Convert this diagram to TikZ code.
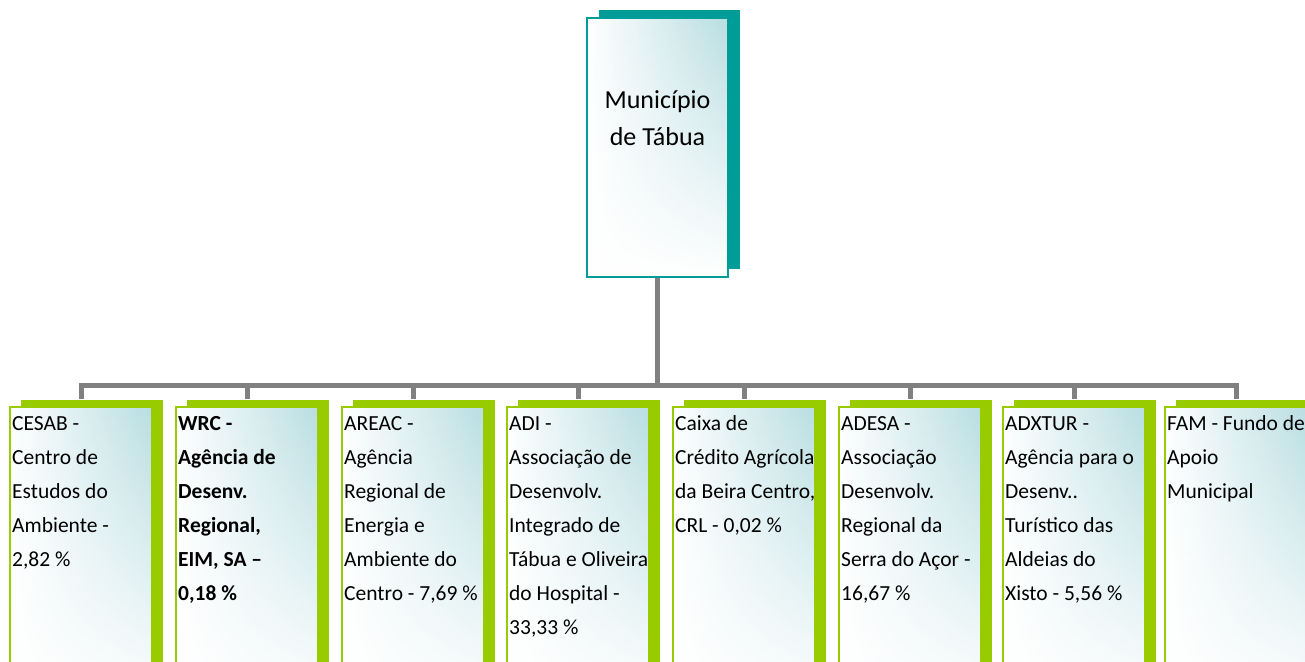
\documentclass[tikz,border=0pt]{standalone}
\usepackage{fontspec}
\setmainfont{Carlito}
\usetikzlibrary{fadings,shadows}

\definecolor{shadeteal}{HTML}{009C97}
\definecolor{leafgreen}{HTML}{99CC00}
\definecolor{bargray}{HTML}{808080}
\definecolor{paleteal}{HTML}{B9DEE2}

\begin{document}
\begin{tikzpicture}[x=1pt, y=-1pt,
		every node/.style={inner sep=0pt},
		frontbox/.style={rectangle, left color=white, right color=paleteal,
			path picture={\fill[white, path fading=north] (path picture bounding box.south west) rectangle (path picture bounding box.north east);}},
		topbox/.style={frontbox, draw=shadeteal, line width=1.2pt, minimum width=141pt, minimum height=259pt,
			general shadow={fill=shadeteal, draw=none, shadow xshift=12pt, shadow yshift=8pt}},
		childbox/.style={frontbox, draw=leafgreen, line width=1.5pt, anchor=north west, minimum width=142pt, minimum height=300pt,
			general shadow={fill=leafgreen, draw=none, shadow xshift=11pt, shadow yshift=7pt}},
		childtext/.style={anchor=north west, align=left, font=\fontsize{21.5}{34}\selectfont},
		boldtext/.style={childtext, font=\fontsize{21.5}{34}\selectfont\bfseries},
		link/.style={draw=bargray, line width=5pt}]
	\clip[use as bounding box] (0,0) rectangle (1305,661);

	% top of the chart
	\node[topbox] (mun) at (657.5,147.5) {};
	\node[anchor=north, align=center, font=\fontsize{26}{37}\selectfont] (muntext) at (657.5,82) {\strut Município\\de Tábua};
	\coordinate (hub) at (657.5,385);

	% participated entities
	\foreach \x/\n in {9/1,175/2,341/3,506/4,672/5,838/6,1002/7,1164/8}
		\node[childbox] (c\n) at (\x,406) {};

	\node[childtext] (t1) at ([xshift=3pt]c1.north west) {\strut CESAB -\\Centro de\\Estudos do\\Ambiente -\\2,82 \%};
	\node[boldtext] (t2) at ([xshift=3pt]c2.north west) {\strut WRC -\\Agência de\\Desenv.\\Regional,\\EIM, SA –\\0,18 \%};
	\node[childtext] (t3) at ([xshift=3pt]c3.north west) {\strut AREAC -\\Agência\\Regional de\\Energia e\\Ambiente do\\Centro - 7,69 \%};
	\node[childtext] (t4) at ([xshift=3pt]c4.north west) {\strut ADI -\\Associação de\\Desenvolv.\\Integrado de\\Tábua e Oliveira\\do Hospital -\\33,33 \%};
	\node[childtext] (t5) at ([xshift=3pt]c5.north west) {\strut Caixa de\\Crédito Agrícola\\da Beira Centro,\\CRL - 0,02 \%};
	\node[childtext] (t6) at ([xshift=3pt]c6.north west) {\strut ADESA -\\Associação\\Desenvolv.\\Regional da\\Serra do Açor -\\16,67 \%};
	\node[childtext] (t7) at ([xshift=3pt]c7.north west) {\strut ADXTUR -\\Agência para o\\Desenv..\\Turístico das\\Aldeias do\\Xisto - 5,56 \%};
	\node[childtext] (t8) at ([xshift=3pt]c8.north west) {\strut FAM - Fundo de\\Apoio\\Municipal};

	% connectors
	\draw[link] (mun.south) -- (hub);
	\foreach \n in {1,...,8}
		\draw[link] (hub) -| ([xshift=1pt, yshift=7pt]c\n.north);
\end{tikzpicture}
\end{document}
